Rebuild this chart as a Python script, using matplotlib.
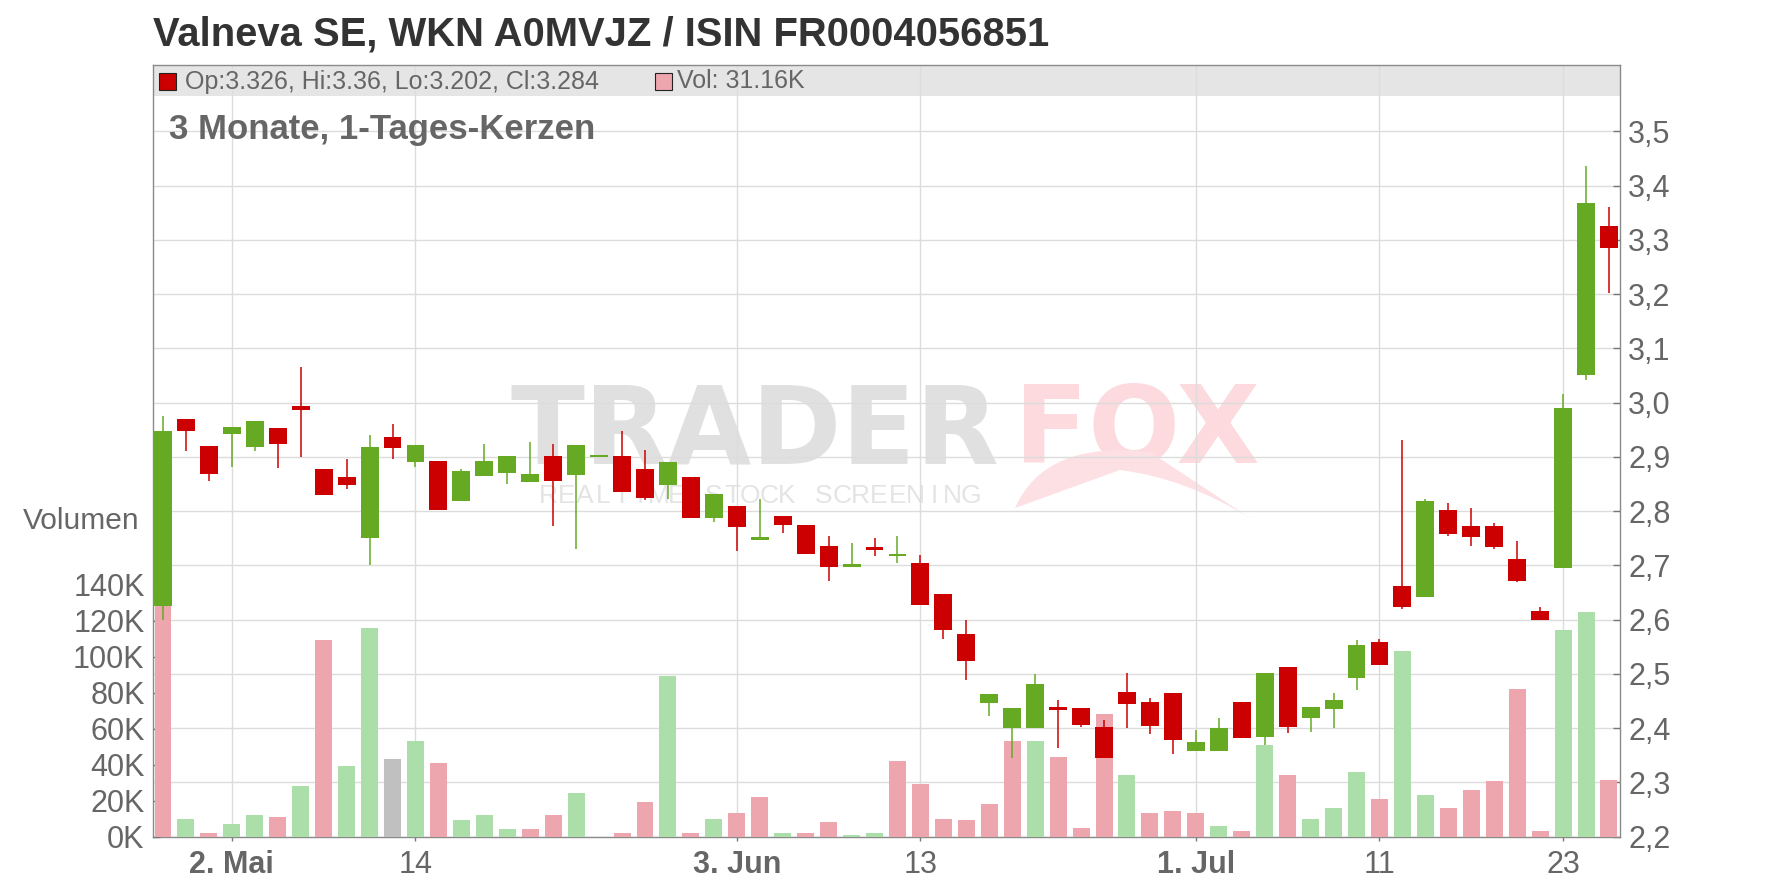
import matplotlib.pyplot as plt
import matplotlib.patches as mpatches
from matplotlib.path import Path
import numpy as np
import pandas as pd

plt.rcParams['font.family'] = ['Liberation Sans', 'DejaVu Sans']

# trading days shown (Apr 29 - Jul 25 2024)
dates = pd.bdate_range("2024-04-29", "2024-07-25")

opens = [2.625, 2.969, 2.919, 2.942, 2.918, 2.953, 2.993, 2.877, 2.862, 2.750,
         2.936, 2.890, 2.892, 2.819, 2.865, 2.870, 2.854, 2.901, 2.867, 2.900,
         2.901, 2.877, 2.848, 2.862, 2.787, 2.809, 2.747, 2.790, 2.774, 2.735,
         2.697, 2.733, 2.717, 2.704, 2.647, 2.573, 2.446, 2.400, 2.400, 2.438,
         2.436, 2.401, 2.466, 2.448, 2.464, 2.358, 2.358, 2.448, 2.384, 2.512,
         2.419, 2.435, 2.492, 2.558, 2.661, 2.642, 2.801, 2.772, 2.772, 2.711,
         2.615, 2.695, 3.051, 3.326]
highs = [2.975, 2.969, 2.919, 2.954, 2.966, 2.953, 3.065, 2.877, 2.895, 2.940,
         2.960, 2.921, 2.892, 2.878, 2.923, 2.901, 2.927, 2.923, 2.921, 2.900,
         2.947, 2.912, 2.890, 2.862, 2.831, 2.809, 2.822, 2.790, 2.774, 2.754,
         2.741, 2.750, 2.754, 2.719, 2.647, 2.600, 2.462, 2.436, 2.499, 2.451,
         2.436, 2.414, 2.501, 2.455, 2.464, 2.396, 2.419, 2.448, 2.501, 2.512,
         2.438, 2.464, 2.562, 2.564, 2.931, 2.822, 2.815, 2.806, 2.777, 2.744,
         2.623, 3.015, 3.436, 3.36]
lows = [2.600, 2.911, 2.855, 2.881, 2.911, 2.879, 2.900, 2.830, 2.841, 2.700,
        2.895, 2.881, 2.802, 2.819, 2.865, 2.850, 2.854, 2.773, 2.730, 2.900,
        2.835, 2.820, 2.822, 2.787, 2.780, 2.726, 2.747, 2.760, 2.721, 2.671,
        2.697, 2.717, 2.704, 2.627, 2.564, 2.489, 2.422, 2.345, 2.400, 2.363,
        2.402, 2.345, 2.400, 2.389, 2.352, 2.358, 2.358, 2.382, 2.369, 2.391,
        2.393, 2.400, 2.470, 2.516, 2.620, 2.642, 2.754, 2.735, 2.730, 2.669,
        2.599, 2.695, 3.042, 3.202]
closes = [2.947, 2.947, 2.868, 2.954, 2.966, 2.924, 2.986, 2.830, 2.848, 2.918,
          2.916, 2.921, 2.802, 2.873, 2.892, 2.901, 2.868, 2.855, 2.921, 2.900,
          2.835, 2.824, 2.890, 2.787, 2.831, 2.771, 2.752, 2.774, 2.721, 2.697,
          2.702, 2.728, 2.720, 2.627, 2.581, 2.524, 2.462, 2.436, 2.481, 2.433,
          2.406, 2.345, 2.444, 2.404, 2.378, 2.374, 2.400, 2.382, 2.501, 2.402,
          2.438, 2.451, 2.553, 2.516, 2.623, 2.818, 2.757, 2.752, 2.734, 2.671,
          2.599, 2.989, 3.367, 3.284]
# volume in K, colour by close vs previous close: u=up, d=down, n=unchanged
vol_k = [150, 10.0, 2.2, 6.7, 12.2, 10.6, 27.8, 109.4, 38.9, 115.6,
         42.8, 52.8, 40.6, 8.9, 12.2, 4.4, 3.9, 12.2, 24.4, 0,
         2.2, 19.4, 88.9, 1.7, 10.0, 13.3, 21.7, 2.2, 1.7, 7.8,
         1.1, 2.2, 41.7, 29.4, 10.0, 8.9, 18.3, 52.8, 53.3, 44.4,
         5.0, 68.3, 34.4, 12.8, 14.4, 13.3, 5.6, 2.8, 50.6, 33.9,
         10.0, 16.1, 35.6, 20.6, 103.3, 22.8, 15.6, 25.6, 31.1, 82.2,
         2.8, 115.0, 125.0, 31.16]
vol_dir = ("duduududuu" "nuduuudduu" "ddududdudd" "uuddddddud"
           "ddudddudud" "uuuduudddd" "duud")

tick_dates = ["2024-05-02", "2024-05-14", "2024-06-03", "2024-06-13",
              "2024-07-01", "2024-07-11", "2024-07-23"]
tick_labels = ["2. Mai", "14", "3. Jun", "13", "1. Jul", "11", "23"]
bold_ticks = ["2. Mai", "3. Jun", "1. Jul"]

title = "Valneva SE, WKN A0MVJZ / ISIN FR0004056851"
subtitle = "3 Monate, 1-Tages-Kerzen"

W, H = 1776, 888
fig = plt.figure(figsize=(W / 100, H / 100), dpi=100)
left, right, bot, top = 153 / W, 1620 / W, (H - 836.5) / H, (H - 65) / H
rect = [left, bot, right - left, top - bot]

axg = fig.add_axes(rect)
axv = fig.add_axes(rect, sharex=axg)
axc = fig.add_axes(rect, sharex=axg, sharey=axg)
for a in (axv, axc):
    a.patch.set_visible(False)

x = np.arange(len(dates))
o, h, l, c = map(np.array, (opens, highs, lows, closes))
vols = np.array(vol_k) * 1000

up_col, down_col = "#66a922", "#cc0000"
ccols = [up_col if cc >= oo else down_col for oo, cc in zip(o, c)]
vmap = {"u": "#acdeaa", "d": "#eea6ae", "n": "#c0c0c0"}
vcols = [vmap[d] for d in vol_dir]

# grid / price axis
pmin = 2.2
pmax = 2.2 + (836.5 - 65) / 542.5
axg.set_xlim(-0.436, 63.48)
axg.set_ylim(pmin, pmax)
pt = np.round(np.arange(2.2, 3.51, 0.1), 1)
axg.set_yticks(pt)
axg.set_yticklabels([f"{v:.1f}".replace(".", ",") for v in pt])
axg.yaxis.tick_right()
tpos = [dates.get_loc(pd.Timestamp(d)) for d in tick_dates]
axg.set_xticks(tpos)
axg.set_xticklabels(tick_labels)
for lab in axg.get_xticklabels():
    if lab.get_text() in bold_ticks:
        lab.set_fontweight("bold")
axg.set_axisbelow(True)
axg.grid(True, color="#dcdcdc", lw=1.0)
axg.axhspan(2.2 + (836.5 - 96) / 542.5, pmax, color="#e5e5e5", lw=0, zorder=0.2)
axg.tick_params(axis="y", direction="in", length=5, width=1, color="#777777",
                labelsize=22, labelcolor="#666666", pad=6)
axg.tick_params(axis="x", direction="out", length=3, width=1, color="#777777",
                labelsize=22, labelcolor="#666666", pad=7)
for s in axg.spines.values():
    s.set_color("#8a8a8a")
    s.set_linewidth(1.0)

# volume axis
axv.bar(x, vols, width=0.74, color=vcols, zorder=2)
axv.set_ylim(0, (836.5 - 65) / 36 * 20000)
vt = np.arange(0, 140001, 20000)
axv.set_yticks(vt)
axv.set_yticklabels([f"{int(v / 1000)}K" for v in vt])
axv.yaxis.tick_left()
axv.xaxis.set_visible(False)
for s in axv.spines.values():
    s.set_visible(False)
axv.tick_params(axis="y", direction="in", length=5, width=1, color="#777777",
                labelsize=22, labelcolor="#666666", pad=6)

# candles
axc.vlines(x, l, h, colors=ccols, lw=1.1, zorder=2)
body = np.maximum(np.abs(c - o), 0.003)
axc.bar(x, body, bottom=np.minimum(o, c), width=0.78, color=ccols, zorder=3)
axc.axis("off")

# watermark
tf = fig.transFigure
axg.text(510 / W, 1 - 463 / H, "TRADER", transform=tf, fontsize=78,
         fontweight="bold", family="DejaVu Sans", color="#e0e0e0", zorder=0.3)
axg.text(1014 / W, 1 - 463 / H, "FOX", transform=tf, fontsize=78,
         fontweight="bold", family="DejaVu Sans", color="#fcdade", zorder=0.3)
slogan = "REALTIME STOCK SCREENING"
slot = (980 - 539) / len(slogan)
for i, ch in enumerate(slogan):
    axg.text((539 + slot * (i + 0.5)) / W, 1 - 503 / H, ch, transform=tf,
             fontsize=19, color="#e4e4e4", ha="center", zorder=0.3)
px = lambda a, b: (a / W, 1 - b / H)
verts = [px(1015, 508), px(1045, 440), px(1150, 452), px(1250, 518),
         px(1185, 478), px(1120, 470), px(1015, 508)]
codes = [Path.MOVETO, Path.CURVE3, Path.CURVE3, Path.LINETO,
         Path.CURVE3, Path.CURVE3, Path.CLOSEPOLY]
axg.add_patch(mpatches.PathPatch(Path(verts, codes), transform=tf,
                                 fc="#fde0e4", ec="none", zorder=0.3))

# header texts
fig.text(153 / W, 1 - 34 / H, title, fontsize=28.8, fontweight="bold",
         color="#333333", va="center")
fig.add_artist(mpatches.Rectangle((159 / W, 1 - 90 / H), 17 / W, 17 / H,
                                  transform=tf, fc=down_col, ec="#222222", lw=0.8))
fig.text(185 / W, 1 - 81.5 / H,
         f"Op:{opens[-1]}, Hi:{highs[-1]}, Lo:{lows[-1]}, Cl:{closes[-1]}",
         fontsize=18, color="#666666", va="center")
fig.add_artist(mpatches.Rectangle((655 / W, 1 - 90 / H), 17 / W, 17 / H,
                                  transform=tf, fc=vmap[vol_dir[-1]], ec="#222222", lw=0.8))
fig.text(677 / W, 1 - 81.5 / H, f"Vol: {vol_k[-1]:.2f}K",
         fontsize=18, color="#666666", va="center")
fig.text(169 / W, 1 - 129 / H, subtitle, fontsize=25, fontweight="bold",
         color="#666666", va="center")
fig.text(139 / W, 1 - 521 / H, "Volumen", fontsize=21.5, color="#666666",
         ha="right", va="center")

fig.savefig("out.png", dpi=100)
